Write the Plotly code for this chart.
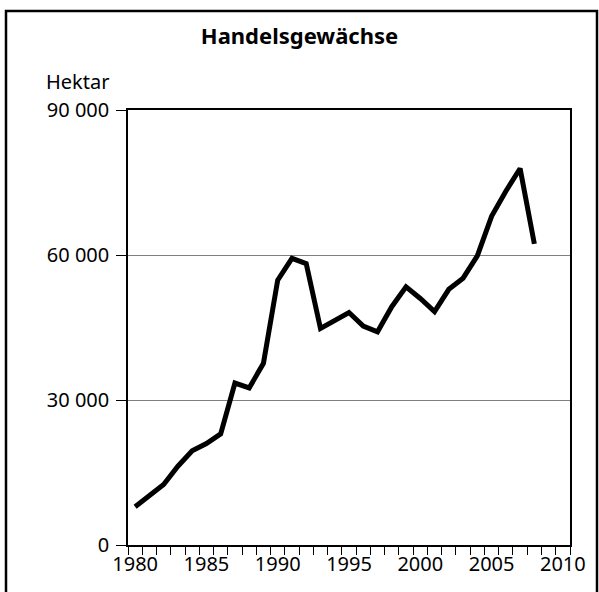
import plotly.graph_objects as go

years = list(range(1980, 2009))
hectares = [7900, 10300, 12500, 16300, 19500, 21000, 23000, 33500, 32500, 37600,
            54800, 59300, 58200, 44800, 46500, 48100, 45300, 44100, 49300, 53400,
            51000, 48300, 52900, 55200, 59800, 68000, 73200, 77900, 62300]
x_labels = [1980, 1985, 1990, 1995, 2000, 2005, 2010]
y_ticks = [0, 30000, 60000, 90000]
y_labels = ["0", "30 000", "60 000", "90 000"]
title_text = "<b>Handelsgewächse</b>"
unit_text = "Hektar"

FONT = "Noto Sans"
FS = 20
W, H = 599, 592
L, R, T, B = 128, 29, 110, 47

fig = go.Figure()
fig.add_trace(go.Scatter(x=years, y=hectares, mode="lines",
                         line=dict(color="black", width=5),
                         hoverinfo="skip", showlegend=False))

pw = W - L - R
ph = H - T - B

def px_to_paper_x(px):
    return (px - L) / pw

def px_to_paper_y(py):
    return (H - B - py) / ph

fig.update_layout(
    width=W, height=H,
    margin=dict(l=L, r=R, t=T, b=B, pad=0),
    paper_bgcolor="white", plot_bgcolor="white",
    font=dict(family=FONT, size=FS, color="black"),
    title=dict(text=title_text, x=0.5, xref="container", xanchor="center",
               y=1 - 36 / H, yref="container", yanchor="middle",
               font=dict(family=FONT, size=22, color="black")),
    xaxis=dict(range=[1979.5, 2010.5], tickmode="array", tickvals=x_labels,
               ticktext=[str(v) for v in x_labels], ticks="",
               ticklabelstandoff=0,
               showgrid=False, zeroline=False, showline=True, mirror=True,
               linecolor="black", linewidth=1.5,
               minor=dict(tickmode="linear", tick0=1979.5, dtick=1, ticks="outside",
                          ticklen=8, tickwidth=1.2, tickcolor="black", showgrid=False),
               fixedrange=True),
    yaxis=dict(range=[0, 90000], tickmode="array", tickvals=y_ticks, ticktext=y_labels,
               ticks="outside", ticklen=10, tickwidth=1.2, tickcolor="black",
               ticklabelstandoff=3,
               showgrid=True, gridcolor="#7f7f7f", gridwidth=1,
               zeroline=False, showline=True, mirror=True,
               linecolor="black", linewidth=1.5, fixedrange=True),
    annotations=[dict(text=unit_text, xref="paper", yref="paper",
                      x=px_to_paper_x(111), y=px_to_paper_y(82),
                      xanchor="right", yanchor="middle", showarrow=False,
                      font=dict(family=FONT, size=FS, color="black"))],
    shapes=[dict(type="rect", xref="paper", yref="paper",
                 x0=px_to_paper_x(6), x1=px_to_paper_x(597),
                 y0=px_to_paper_y(605), y1=px_to_paper_y(11),
                 line=dict(color="black", width=2.5), fillcolor="rgba(0,0,0,0)",
                 layer="above")],
)

fig.write_html("out.html", config={"displayModeBar": False},
               post_script="document.body.style.margin='0';document.body.style.overflow='hidden';")
